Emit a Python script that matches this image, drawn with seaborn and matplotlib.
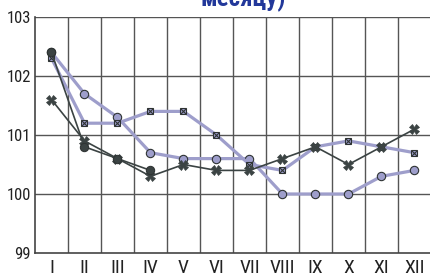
import matplotlib
matplotlib.use("Agg")
import matplotlib.pyplot as plt
import numpy as np
import seaborn as sns

months = ["I", "II", "III", "IV", "V", "VI", "VII", "VIII", "IX", "X", "XI", "XII"]

# светлые линии
light_circ = [102.4, 101.7, 101.3, 100.7, 100.6, 100.6, 100.6, 100.0, 100.0, 100.0, 100.3, 100.4]
light_sq = [102.3, 101.2, 101.2, 101.4, 101.4, 101.0, 100.5, 100.4, 100.8, 100.9, 100.8, 100.7]
# тёмные линии
dark_x = [101.6, 100.9, 100.6, 100.3, 100.5, 100.4, 100.4, 100.6, 100.8, 100.5, 100.8, 101.1]
dark_circ = [102.4, 100.8, 100.6, 100.4]

yticks = [99, 100, 101, 102, 103]

LIGHT = "#9e9ecb"
DARK = "#3b4343"
EDGE = "#2e3333"
NARROW = ["Roboto Condensed", "Liberation Sans Narrow", "Arial Narrow", "DejaVu Sans"]

sns.set_style("white")
plt.rcParams["font.family"] = NARROW

fig = plt.figure(figsize=(4.31, 2.76), dpi=100)
ax = fig.add_axes([35 / 431, 23 / 276, 396 / 431, 236 / 276])

xpos = np.arange(len(months))

sns.lineplot(x=xpos, y=light_circ, ax=ax, color=LIGHT, lw=2.3, marker="o",
             markersize=6, markerfacecolor=LIGHT, markeredgecolor=EDGE,
             markeredgewidth=0.8, zorder=3)
sns.lineplot(x=xpos, y=light_sq, ax=ax, color=LIGHT, lw=2.3, marker="s",
             markersize=5, markerfacecolor=LIGHT, markeredgecolor=EDGE,
             markeredgewidth=0.8, zorder=3)
sns.scatterplot(x=xpos, y=light_sq, ax=ax, marker="x", s=14, color=EDGE,
                linewidth=0.8, zorder=4)
sns.lineplot(x=xpos, y=dark_x, ax=ax, color=DARK, lw=1.2, marker="X",
             markersize=6.5, markerfacecolor=DARK, markeredgecolor=DARK,
             markeredgewidth=0.5, zorder=5)
sns.lineplot(x=xpos[:len(dark_circ)], y=dark_circ, ax=ax, color=DARK, lw=1.2,
             marker="o", markersize=6, markerfacecolor=DARK,
             markeredgecolor=EDGE, zorder=6)

ax.set_xlim(-0.5, len(months) - 0.5)
ax.set_ylim(99, 103)
ax.set_yticks(yticks)
ax.set_yticklabels([str(v) for v in yticks], fontsize=12, color="#222222")
ax.set_xticks(xpos)
ax.set_xticklabels(months, fontsize=14, color="#222222")
ax.tick_params(axis="both", which="both", length=0)
ax.tick_params(axis="y", pad=3)
ax.tick_params(axis="x", pad=4)

ax.grid(False)
for v in yticks[1:]:
    ax.axhline(v, color="#555555", lw=1.0, zorder=1)
for m in xpos[:-1] + 0.5:
    ax.axvline(m, color="#555555", lw=1.0, zorder=1)

for side in ["top", "right"]:
    ax.spines[side].set_visible(False)
for side in ["left", "bottom"]:
    ax.spines[side].set_color("#444444")
    ax.spines[side].set_linewidth(1.2)

fig.text(243 / 431, 1 - 6 / 276, "месяцу)", ha="center", va="baseline",
         fontsize=18, fontweight="bold", color="#22389a", family=NARROW)

fig.savefig("out.png", dpi=100)
